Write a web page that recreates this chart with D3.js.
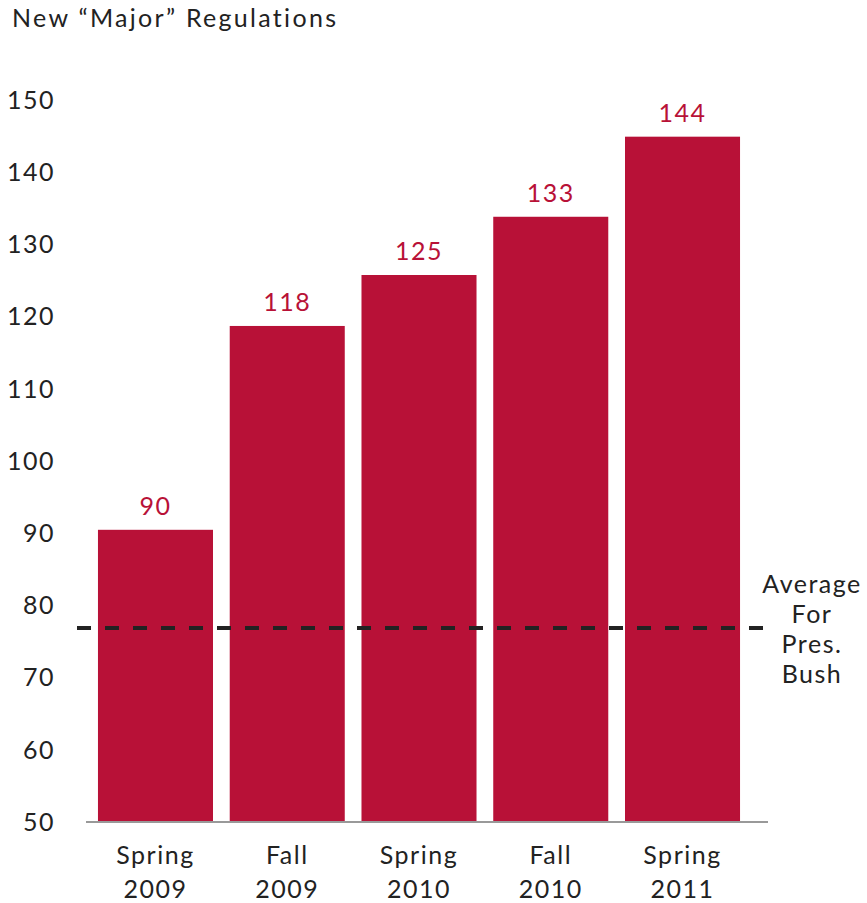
<!DOCTYPE html>
<html>
<head>
<meta charset="utf-8">
<script src="https://cdn.jsdelivr.net/npm/d3@7"></script>
<style>
  body { margin: 0; background: #fff; }
  text { font-family: Lato, "Open Sans", sans-serif; letter-spacing: 1.5px; }
</style>
</head>
<body>
<script>
"use strict";

var categories = [["Spring", "2009"], ["Fall", "2009"], ["Spring", "2010"], ["Fall", "2010"], ["Spring", "2011"]];
var values = [90, 118, 125, 133, 144];
var yTicks = [50, 60, 70, 80, 90, 100, 110, 120, 130, 140, 150];
var bushAverage = 76.5;
var averageLabel = ["Average", "For", "Pres.", "Bush"];
var title = "New \u201cMajor\u201d Regulations";

var width = 867, height = 903;
var red = "#b81137";

var svg = d3.select("body").append("svg")
  .attr("width", width)
  .attr("height", height);

var x = d3.scaleBand()
  .domain(categories.map(function(d, i) { return i; }))
  .range([89.6, 748.4])
  .paddingInner(0.127)
  .paddingOuter(0.0635);

var y = d3.scaleLinear()
  .domain([50, 150])
  .range([821, 93]);

// title
svg.append("text")
  .attr("x", 12)
  .attr("y", 27)
  .attr("font-size", 25)
  .attr("fill", "#222")
  .style("letter-spacing", "2.3px")
  .text(title);

// y tick labels
svg.selectAll(".ytick").data(yTicks).enter().append("text")
  .attr("class", "ytick")
  .attr("x", 55)
  .attr("y", function(d) { return y(d) + 1 + (d - 50) * 0.06; })
  .attr("dy", "0.35em")
  .attr("text-anchor", "end")
  .attr("font-size", 25)
  .attr("fill", "#222")
  .text(function(d) { return d; });

// bars
svg.selectAll(".bar").data(values).enter().append("rect")
  .attr("class", "bar")
  .attr("x", function(d, i) { return x(i); })
  .attr("width", x.bandwidth())
  .attr("y", function(d) { return y(d); })
  .attr("height", function(d) { return y(50) - y(d); })
  .attr("fill", red);

// value labels
svg.selectAll(".val").data(values).enter().append("text")
  .attr("class", "val")
  .attr("x", function(d, i) { return x(i) + x.bandwidth() / 2; })
  .attr("y", function(d) { return y(d) - 15; })
  .attr("text-anchor", "middle")
  .attr("font-size", 25)
  .attr("fill", red)
  .text(function(d) { return d; });

// baseline
svg.append("line")
  .attr("x1", 86).attr("x2", 768)
  .attr("y1", y(50) + 1).attr("y2", y(50) + 1)
  .attr("stroke", "#999")
  .attr("stroke-width", 2);

// category labels
var cat = svg.selectAll(".cat").data(categories).enter().append("text")
  .attr("class", "cat")
  .attr("text-anchor", "middle")
  .attr("font-size", 25)
  .attr("fill", "#222");
cat.selectAll("tspan").data(function(d, i) { return d.map(function(s) { return {s: s, i: i}; }); })
  .enter().append("tspan")
  .attr("x", function(d) { return x(d.i) + x.bandwidth() / 2; })
  .attr("y", function(d, j) { return 864 + j * 34; })
  .text(function(d) { return d.s; });

// average dashed line
svg.append("line")
  .attr("x1", 77).attr("x2", 770)
  .attr("y1", y(bushAverage)).attr("y2", y(bushAverage))
  .attr("stroke", "#222")
  .attr("stroke-width", 4)
  .attr("stroke-dasharray", "14,14");

svg.append("text")
  .attr("text-anchor", "middle")
  .attr("font-size", 25)
  .attr("fill", "#222")
  .selectAll("tspan").data(averageLabel).enter().append("tspan")
  .attr("x", 812)
  .attr("y", function(d, i) { return 593 + i * 30; })
  .text(function(d) { return d; });
</script>
</body>
</html>
